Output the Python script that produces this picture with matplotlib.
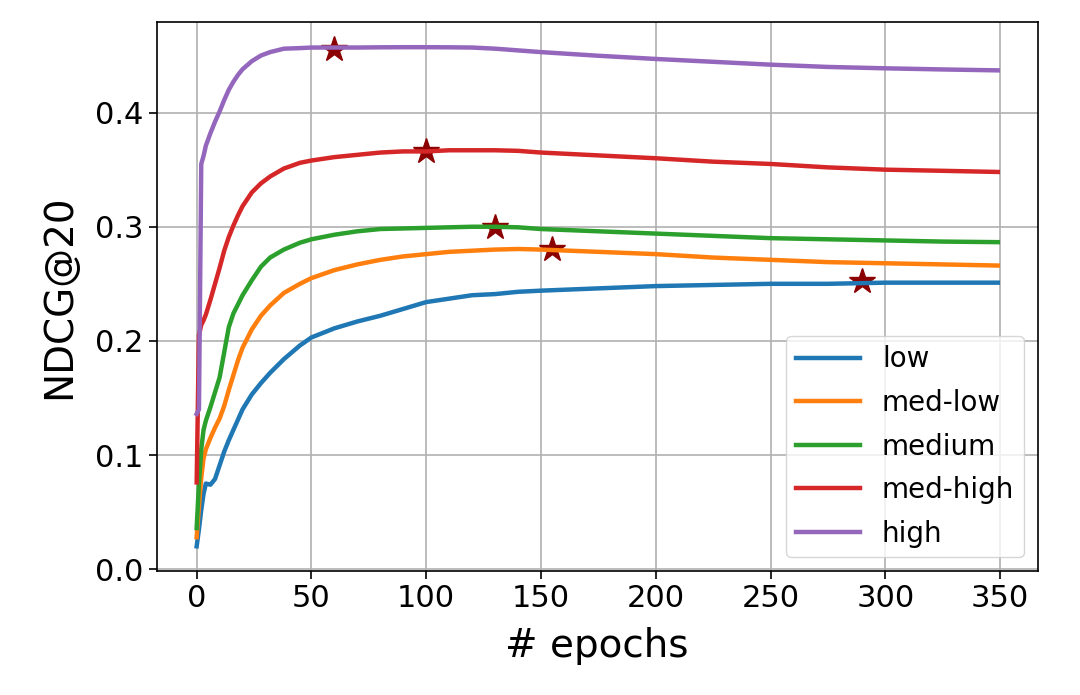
import matplotlib
matplotlib.use("Agg")
from matplotlib import pyplot as plt

epochs = [0, 1, 2, 3, 4, 6, 8, 10, 12, 14, 16, 18, 20, 24, 28, 32, 38, 45, 50,
          60, 70, 80, 90, 100, 110, 120, 130, 140, 150, 175, 200, 225, 250,
          275, 300, 325, 349]

low = [0.020, 0.035, 0.052, 0.066, 0.075, 0.074, 0.079, 0.091, 0.103, 0.113,
       0.122, 0.131, 0.140, 0.153, 0.163, 0.172, 0.184, 0.196, 0.203,
       0.211, 0.217, 0.222, 0.228, 0.234, 0.237, 0.240, 0.241, 0.243, 0.244,
       0.246, 0.248, 0.249, 0.250, 0.250, 0.251, 0.251, 0.251]

med_low = [0.028, 0.055, 0.080, 0.097, 0.105, 0.115, 0.124, 0.132, 0.143, 0.157,
           0.170, 0.183, 0.194, 0.210, 0.222, 0.231, 0.242, 0.250, 0.255,
           0.262, 0.267, 0.271, 0.274, 0.276, 0.278, 0.279, 0.280, 0.2805, 0.280,
           0.278, 0.276, 0.273, 0.271, 0.269, 0.268, 0.267, 0.266]

medium = [0.036, 0.075, 0.105, 0.122, 0.130, 0.142, 0.155, 0.168, 0.190, 0.212,
          0.224, 0.232, 0.240, 0.253, 0.265, 0.273, 0.280, 0.286, 0.289,
          0.293, 0.296, 0.298, 0.2985, 0.299, 0.2995, 0.300, 0.300, 0.2995, 0.298,
          0.296, 0.294, 0.292, 0.290, 0.289, 0.288, 0.287, 0.2865]

med_high = [0.076, 0.205, 0.214, 0.218, 0.223, 0.236, 0.250, 0.264, 0.279, 0.291,
            0.301, 0.310, 0.318, 0.330, 0.338, 0.344, 0.351, 0.356, 0.358,
            0.361, 0.363, 0.365, 0.366, 0.366, 0.367, 0.367, 0.367, 0.3665, 0.365,
            0.3625, 0.360, 0.357, 0.355, 0.352, 0.350, 0.349, 0.348]

high = [0.136, 0.140, 0.355, 0.362, 0.371, 0.382, 0.392, 0.401, 0.411, 0.420,
        0.427, 0.433, 0.438, 0.445, 0.450, 0.453, 0.456, 0.4565, 0.457,
        0.457, 0.457, 0.4572, 0.4573, 0.4573, 0.4572, 0.457, 0.456, 0.4545, 0.453,
        0.4498, 0.447, 0.4445, 0.442, 0.440, 0.4388, 0.4378, 0.437]

labels = ["low", "med-low", "medium", "med-high", "high"]
series = [low, med_low, medium, med_high, high]

# best epoch (star) per series
best_epoch = [290, 155, 130, 100, 60]
best_value = [0.2525, 0.2805, 0.300, 0.366, 0.456]

#=======================================================================================

fig = plt.figure(figsize=(10.8, 6.95), dpi=100)
ax = fig.add_subplot(111)
fig.subplots_adjust(left=0.145, right=0.961, top=0.968, bottom=0.178)

for lab, vals in zip(labels, series):
    ax.plot(epochs, vals, linewidth=3.2, label=lab)

ax.plot(best_epoch, best_value, linestyle="none", marker="*", markersize=19,
        color="darkred", zorder=1.9)

ax.grid(True, linewidth=1.2)
ax.tick_params(labelsize=22, length=6, width=1.2)
for s in ax.spines.values():
    s.set_linewidth(1.2)
ax.set_xticks([0, 50, 100, 150, 200, 250, 300, 350])
ax.set_yticks([0.0, 0.1, 0.2, 0.3, 0.4])
ax.set_xlabel("# epochs", fontsize=28, labelpad=10)
ax.set_ylabel("NDCG@20", fontsize=28, labelpad=12)
ax.legend(loc="lower right", fontsize=20, handlelength=2.3, labelspacing=0.56,
          borderpad=0.35)

plt.savefig("out.png")
